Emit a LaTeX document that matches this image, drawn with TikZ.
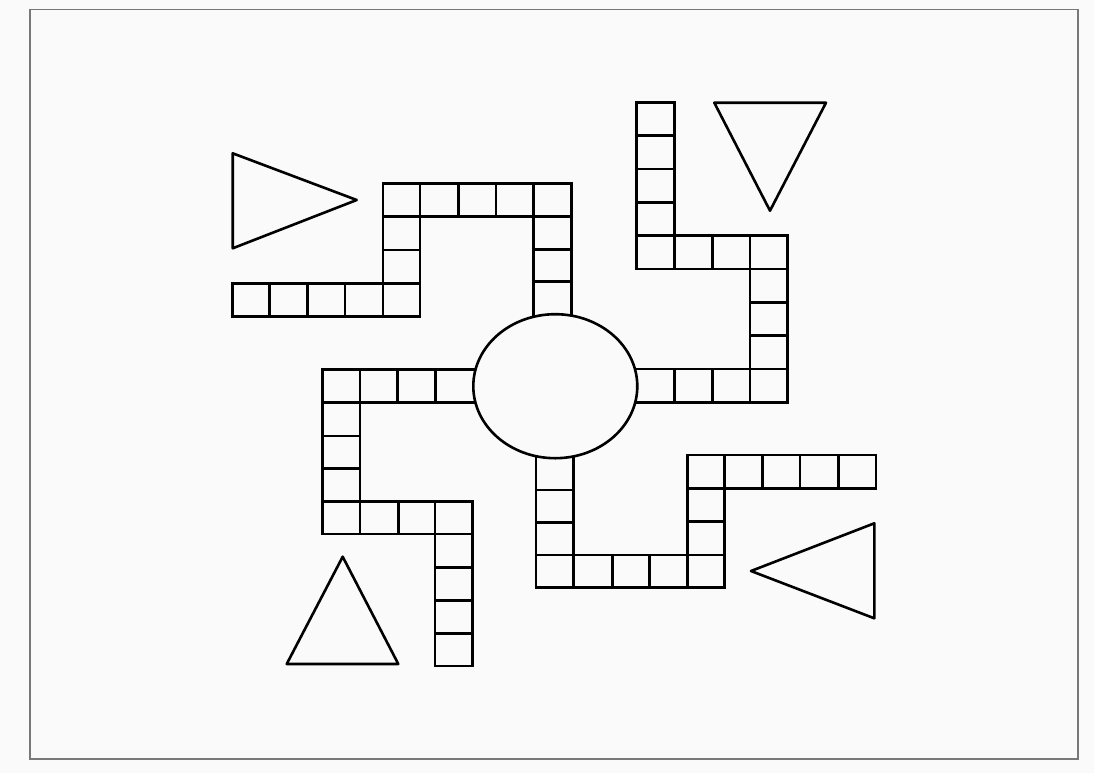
\documentclass[tikz,border=0pt]{standalone}
\definecolor{bg}{RGB}{250,250,250}
\definecolor{framegray}{RGB}{120,120,120}
\begin{document}
\begin{tikzpicture}[x=0.5pt,y=-0.5pt,
  cell/.style={draw=black,line width=1.3pt,line join=miter},
  outl/.style={draw=black,line width=1.3pt,line join=round},
  frame/.style={draw=framegray,line width=0.9pt}]
\useasboundingbox (0,0) rectangle (1094,773);
\fill[bg] (0,0) rectangle (1094,773);
\draw[frame] (30,9.5) rectangle (1078,759);
% ---- top-left arm ----
\foreach \a/\b in {183.3/216.7,216.7/249.3,249.3/281.7,281.7/335}
  \draw[cell] (533.3,\a) rectangle (571.7,\b);
\foreach \a/\b in {383/420,420/458.3,458.3/496,496/533.3}
  \draw[cell] (\a,183.3) rectangle (\b,216.7);
\foreach \a/\b in {216.7/250,250/283.3,283.3/316.7}
  \draw[cell] (383,\a) rectangle (420,\b);
\foreach \a/\b in {232.3/269.3,269.3/307.3,307.3/345,345/383}
  \draw[cell] (\a,283.3) rectangle (\b,316.7);
% ---- right arm ----
\foreach \a/\b in {102.3/135.5,135.5/169,169/202.3,202.3/235.7,235.7/269}
  \draw[cell] (636.7,\a) rectangle (674.3,\b);
\foreach \a/\b in {674.3/712.3,712.3/750,750/787.3}
  \draw[cell] (\a,235.7) rectangle (\b,269);
\foreach \a/\b in {269/302.3,302.3/335.7,335.7/369,369/402.3}
  \draw[cell] (750,\a) rectangle (787.3,\b);
\foreach \a/\b in {615/674.3,674.3/712.3,712.3/750}
  \draw[cell] (\a,369) rectangle (\b,402.3);
% ---- left arm ----
\foreach \a/\b in {322.7/360,360/397.7,397.7/435.7,435.7/495}
  \draw[cell] (\a,369.3) rectangle (\b,402.3);
\foreach \a/\b in {402.3/436,436/468.3,468.3/501.7,501.7/534}
  \draw[cell] (322.7,\a) rectangle (360,\b);
\foreach \a/\b in {360/398.3,398.3/435,435/472.3}
  \draw[cell] (\a,501.7) rectangle (\b,534);
\foreach \a/\b in {534/567.3,567.3/600.7,600.7/633.3,633.3/666}
  \draw[cell] (435,\a) rectangle (472.3,\b);
% ---- bottom arm ----
\foreach \a/\b in {435/490,490/522.3,522.3/555,555/587.7}
  \draw[cell] (536,\a) rectangle (573.3,\b);
\foreach \a/\b in {573.3/612.3,612.3/649.3,649.3/687.7,687.7/724.3}
  \draw[cell] (\a,555) rectangle (\b,587.7);
\foreach \a/\b in {455/488.3,488.3/521.7,521.7/555}
  \draw[cell] (687.7,\a) rectangle (724.3,\b);
\foreach \a/\b in {724.3/762.3,762.3/800,800/838.3,838.3/876}
  \draw[cell] (\a,455) rectangle (\b,488.3);
% ---- centre ----
\filldraw[outl,fill=bg] (555.3,386.2) ellipse [x radius=82, y radius=72];
% ---- triangles ----
\draw[outl] (232.7,153.3) -- (356.7,200) -- (232.7,248.3) -- cycle;
\draw[outl] (714.3,102.7) -- (826,102.7) -- (770,210.7) -- cycle;
\draw[outl] (342.7,556.7) -- (398.3,664) -- (286.7,664) -- cycle;
\draw[outl] (751,571) -- (874.3,523.3) -- (874.3,618.3) -- cycle;
\end{tikzpicture}
\end{document}
